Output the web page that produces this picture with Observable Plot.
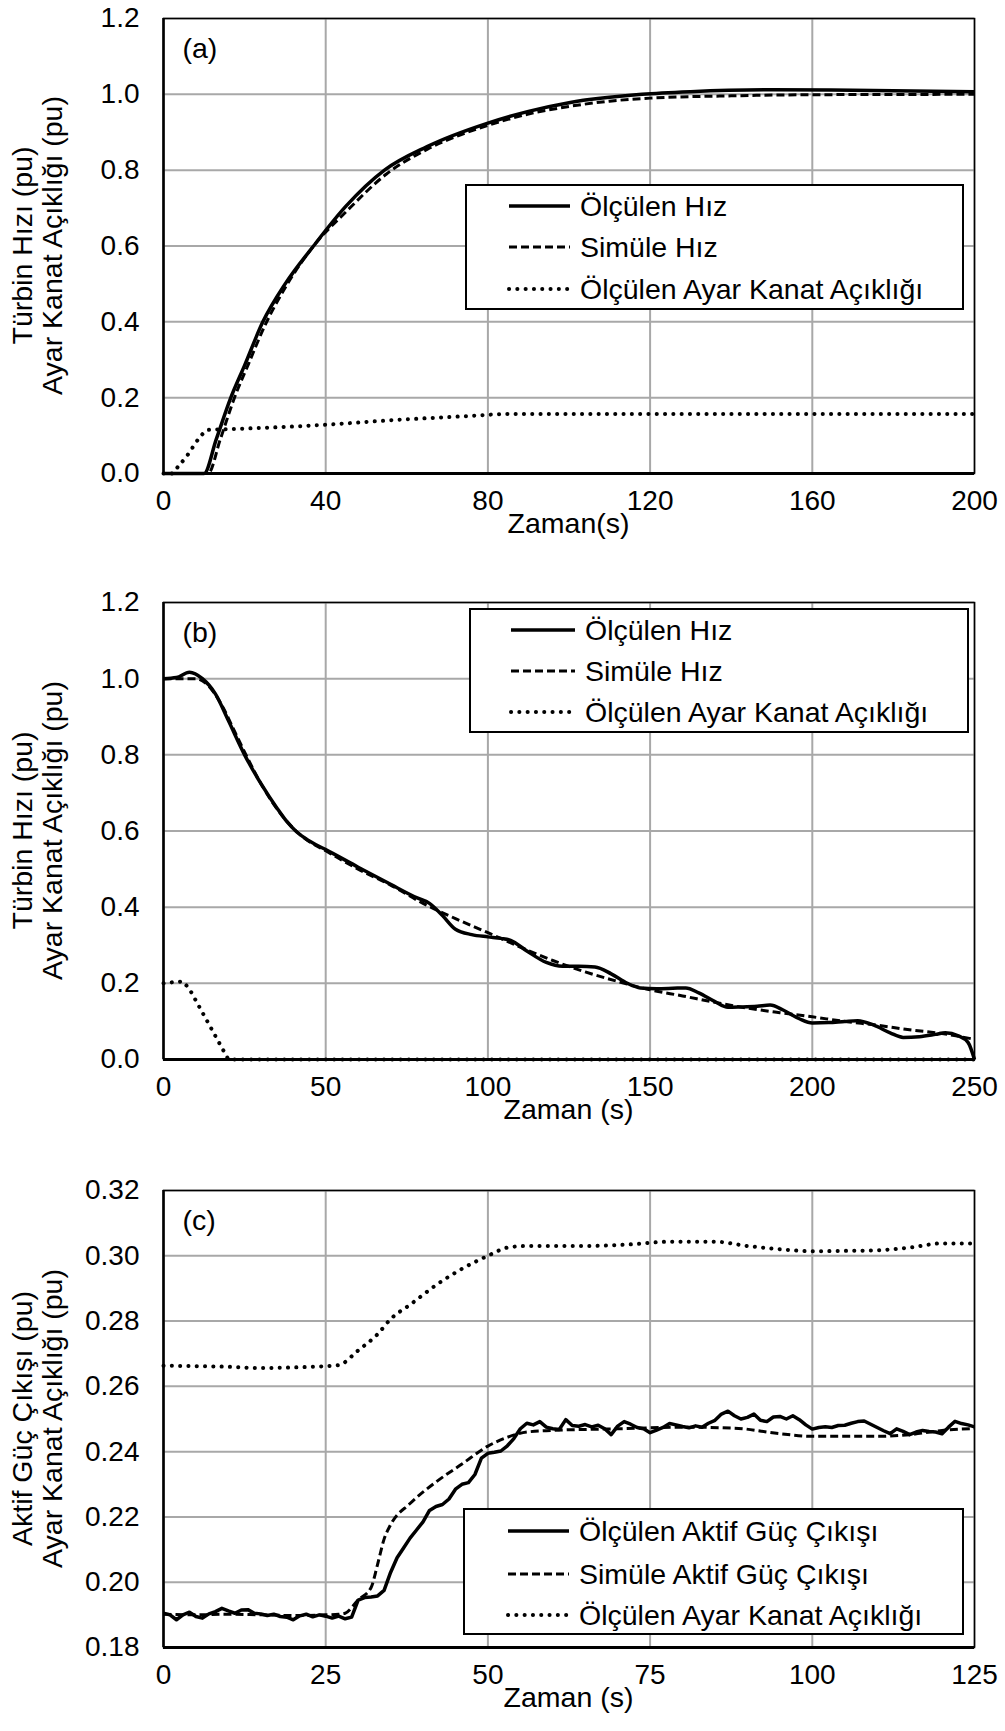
<!DOCTYPE html>
<html>
<head>
<meta charset="utf-8">
<script src="https://cdn.jsdelivr.net/npm/d3@7"></script>
<script src="https://cdn.jsdelivr.net/npm/@observablehq/plot@0.6"></script>
<style>
  html, body { margin: 0; padding: 0; background: #fff; overflow: hidden; }
  #chart { width: 1005px; }
  #chart svg { display: block; }
</style>
</head>
<body>
<div id="chart"></div>
<script>
// ---------- Panel (a) data ----------
const aXTicks = [0, 40, 80, 120, 160, 200];
const aYTicks = [0, 0.2, 0.4, 0.6, 0.8, 1.0, 1.2];
const aMeasT = [0, 10, 13, 16.6, 20, 24.5, 30, 37, 45, 54.5, 65, 80, 90, 100, 118, 130, 150, 170, 200];
const aMeasV = [0, 0, 0.09, 0.2, 0.285, 0.4, 0.5, 0.6, 0.705, 0.8, 0.862, 0.924, 0.955, 0.978, 1.0, 1.007, 1.012, 1.011, 1.007];
const aSimT = [0, 11, 14, 17.5, 21, 25, 30, 37, 45, 55, 65, 80, 90, 100, 110, 120, 140, 160, 200];
const aSimV = [0, 0, 0.09, 0.2, 0.29, 0.39, 0.49, 0.6, 0.69, 0.79, 0.855, 0.918, 0.948, 0.968, 0.982, 0.99, 0.996, 0.999, 1.0];
const aGateT = [0, 2, 3.5, 6, 8.7, 11, 19, 39, 57, 76, 85, 200];
const aGateV = [0, 0, 0.017, 0.05, 0.092, 0.115, 0.118, 0.128, 0.141, 0.152, 0.157, 0.157];

// ---------- Panel (b) data ----------
const bXTicks = [0, 50, 100, 150, 200, 250];
const bYTicks = [0, 0.2, 0.4, 0.6, 0.8, 1.0, 1.2];
const bMeasT = [0, 4, 8, 12, 16, 20, 25, 30, 35, 38, 41, 44, 47, 50, 60, 70, 78, 82, 86, 90, 95, 100, 104, 107, 112, 118, 123, 128, 133, 138, 143, 147, 152, 157, 161, 165, 170, 174, 178, 183, 187, 191, 196, 200, 205, 210, 214, 219, 224, 228, 233, 238, 241, 245, 248, 250];
const bMeasV = [1.0, 1.003, 1.017, 1.0, 0.96, 0.89, 0.8, 0.725, 0.66, 0.625, 0.598, 0.579, 0.564, 0.551, 0.505, 0.46, 0.425, 0.41, 0.378, 0.342, 0.328, 0.322, 0.318, 0.313, 0.285, 0.255, 0.245, 0.245, 0.243, 0.225, 0.2, 0.188, 0.186, 0.187, 0.188, 0.175, 0.152, 0.137, 0.138, 0.14, 0.143, 0.13, 0.107, 0.096, 0.097, 0.1, 0.102, 0.09, 0.07, 0.058, 0.06, 0.066, 0.07, 0.062, 0.045, 0.0];
const bSimT = [0, 10, 14, 18, 22, 26, 30, 35, 40, 45, 50, 60, 70, 80, 90, 100, 110, 120, 130, 140, 150, 160, 170, 180, 190, 200, 210, 220, 230, 240, 250];
const bSimV = [1.0, 1.0, 0.98, 0.93, 0.86, 0.79, 0.725, 0.658, 0.607, 0.572, 0.548, 0.5, 0.458, 0.41, 0.37, 0.333, 0.295, 0.26, 0.23, 0.205, 0.183, 0.167, 0.15, 0.135, 0.123, 0.112, 0.1, 0.09, 0.078, 0.068, 0.053];
const bGateT = [0, 3, 6, 8, 20, 250];
const bGateV = [0.2, 0.203, 0.205, 0.185, 0.0, 0.0];

// ---------- Panel (c) data ----------
const cXTicks = [0, 25, 50, 75, 100, 125];
const cYTicks = [0.18, 0.20, 0.22, 0.24, 0.26, 0.28, 0.30, 0.32];
const cMeasT = [0,1,2,3,4,5,6,7,8,9,10,11,12,13,14,15,16,17,18,19,20,21,22,23,24,25,26,27,28,29,30,31,32,33,34,35,36,37,38,39,40,41,42,43,44,45,46,47,48,49,50,51,52,53,54,55,56,57,58,59,60,61,62,63,64,65,66,67,68,69,70,71,72,73,74,75,76,77,78,79,80,81,82,83,84,85,86,87,88,89,90,91,92,93,94,95,96,97,98,99,100,101,102,103,104,105,106,107,108,109,110,111,112,113,114,115,116,117,118,119,120,121,122,123,124,125];
const cMeasV = [0.1905,0.1900,0.1885,0.1900,0.1908,0.1895,0.1890,0.1903,0.1910,0.1920,0.1912,0.1905,0.1915,0.1916,0.1905,0.1903,0.1898,0.1902,0.1895,0.1893,0.1885,0.1897,0.1902,0.1894,0.1900,0.1896,0.1890,0.1896,0.1888,0.1893,
  0.1945,0.1953,0.1955,0.1958,0.1975,0.2030,0.2075,0.2105,0.2135,0.2160,0.2185,0.2220,0.2232,0.2238,0.2255,0.2285,0.2300,0.2305,0.2330,0.2380,
  0.2395,0.2398,0.2402,0.2418,0.2440,0.2470,0.2487,0.2482,0.2492,0.2475,0.2470,0.2468,0.2498,0.2480,0.2478,0.2483,0.2476,0.2481,0.2470,0.2452,
  0.2478,0.2492,0.2484,0.2474,0.2470,0.2458,0.2466,0.2474,0.2486,0.2482,0.2477,0.2473,0.2479,0.2475,0.2487,0.2496,0.2515,0.2524,0.2510,0.2500,
  0.2505,0.2515,0.2496,0.2492,0.2506,0.2508,0.2500,0.2510,0.2498,0.2482,0.2469,0.2474,0.2476,0.2474,0.2480,0.2481,0.2487,0.2492,0.2494,0.2484,
  0.2474,0.2464,0.2455,0.2470,0.2462,0.2452,0.2460,0.2465,0.2462,0.2460,0.2455,0.2475,0.2493,0.2486,0.2482,0.2476];
const cSimT = [0, 5, 10, 15, 20, 25, 27, 28, 30, 32, 33, 34, 35, 38, 42, 46, 50, 53, 56, 60, 70, 80, 88, 95, 100, 110, 115, 120, 125];
const cSimV = [0.1902, 0.1900, 0.1902, 0.1900, 0.1898, 0.1900, 0.1902, 0.1905, 0.1946, 0.1984, 0.2055, 0.2132, 0.2176, 0.2241, 0.2307, 0.2362, 0.2417, 0.2444, 0.2460, 0.2465, 0.2470, 0.2475, 0.2472, 0.2455, 0.2447, 0.2447, 0.2452, 0.2465, 0.2471];
const cGateT = [0, 5, 10, 15, 20, 25, 27, 30, 33, 35, 38, 42, 46, 50, 53, 56, 65, 72, 78, 85, 90, 95, 100, 105, 110, 115, 120, 125];
const cGateV = [0.2663, 0.2662, 0.2660, 0.2656, 0.2658, 0.2662, 0.2665, 0.2710, 0.2760, 0.2806, 0.2850, 0.2910, 0.2960, 0.3000, 0.3025, 0.3030, 0.3030, 0.3035, 0.3043, 0.3043, 0.3030, 0.3020, 0.3014, 0.3015, 0.3017, 0.3025, 0.3038, 0.3038];

// ---------- Text ----------
const speedLabels = ["Ölçülen Hız", "Simüle Hız", "Ölçülen Ayar Kanat Açıklığı"];
const powerLabels = ["Ölçülen Aktif Güç Çıkışı", "Simüle Aktif Güç Çıkışı", "Ölçülen Ayar Kanat Açıklığı"];

const FONT = "'Liberation Sans', Arial, Helvetica, sans-serif";
const FS_TICK = 28;
const FS_TITLE = 28.5;
const FS_LEG = 28.5;
const STYLES = [
  {stroke: "black", strokeWidth: 3.5, strokeDasharray: null, strokeLinecap: "butt"},
  {stroke: "black", strokeWidth: 3, strokeDasharray: "8,4", strokeLinecap: "butt"},
  {stroke: "black", strokeWidth: 4, strokeDasharray: "0.1,8.2", strokeLinecap: "round"}
];

const zip = (ts, vs) => ts.map((t, i) => ({t, v: vs[i]}));

function panel(cfg) {
  const series = cfg.series.map(([ts, vs]) => zip(ts, vs));
  const marks = [
    Plot.ruleX(cfg.xTicks, {stroke: "#a8a8a8", strokeWidth: 2}),
    Plot.ruleY(cfg.yTicks, {stroke: "#a8a8a8", strokeWidth: 2}),
    ...series.map((d, i) => Plot.line(d, {
      x: "t", y: "v",
      stroke: STYLES[i].stroke, strokeWidth: STYLES[i].strokeWidth,
      strokeDasharray: STYLES[i].strokeDasharray, strokeLinecap: STYLES[i].strokeLinecap,
      curve: cfg.curves[i]
    })),
    Plot.frame({stroke: "black", strokeWidth: 1.5}),
    Plot.ruleY([cfg.yDomain[0]], {stroke: "black", strokeWidth: 3}),
    Plot.ruleX([cfg.xDomain[0]], {stroke: "black", strokeWidth: 2.5}),
    Plot.text([cfg.tag], {frameAnchor: "top-left", textAnchor: "start", lineAnchor: "middle", dx: 19, dy: 30, fontSize: FS_TITLE, fill: "black"})
  ];
  const svg = Plot.plot({
    width: 1005,
    height: cfg.height,
    marginLeft: 163, marginRight: 31, marginTop: 18, marginBottom: cfg.height - 18 - cfg.plotH,
    style: {fontFamily: FONT, fontSize: FS_TICK + "px", color: "black", background: "white"},
    x: {domain: cfg.xDomain, ticks: cfg.xTicks, tickSize: 0, tickPadding: 17, label: null, tickFormat: d3.format("d")},
    y: {domain: cfg.yDomain, ticks: cfg.yTicks, tickSize: 0, tickPadding: 24, label: null, tickFormat: d3.format(cfg.yFmt)},
    marks
  });
  const s = d3.select(svg);
  const top = 18, bottom = 18 + cfg.plotH, left = 163, right = 1005 - 31;
  // x axis title
  s.append("text").attr("x", (left + right) / 2).attr("y", bottom + 50).attr("dy", "0.35em")
    .attr("text-anchor", "middle").attr("font-family", FONT).attr("font-size", FS_TITLE).attr("fill", "black")
    .text(cfg.xTitle);
  // y axis titles (two lines)
  const cy = (top + bottom) / 2;
  cfg.yTitles.forEach((txt, i) => {
    const x = i === 0 ? 22 : 52;
    s.append("text").attr("transform", `translate(${x},${cy}) rotate(-90)`).attr("dy", "0.35em")
      .attr("text-anchor", "middle").attr("font-family", FONT).attr("font-size", FS_TITLE).attr("fill", "black")
      .text(txt);
  });
  // legend
  const L = cfg.legend;
  const g = s.append("g").attr("text-anchor", "start");
  g.append("rect").attr("x", L.x).attr("y", L.y).attr("width", L.w).attr("height", L.h)
    .attr("fill", "white").attr("stroke", "black").attr("stroke-width", 2);
  cfg.labels.forEach((lab, i) => {
    const y = L.rows[i];
    const st = STYLES[i];
    g.append("line").attr("x1", L.s0).attr("x2", L.s1).attr("y1", y).attr("y2", y)
      .attr("stroke", st.stroke).attr("stroke-width", st.strokeWidth)
      .attr("stroke-dasharray", st.strokeDasharray).attr("stroke-linecap", st.strokeLinecap);
    g.append("text").attr("x", L.tx).attr("y", y).attr("dy", "0.35em").attr("text-anchor", "start")
      .attr("font-family", FONT).attr("font-size", FS_LEG).attr("fill", "black").text(lab);
  });
  return svg;
}

const chart = document.getElementById("chart");
chart.appendChild(panel({
  height: 584, plotH: 455, xDomain: [0, 200], yDomain: [0, 1.2], xTicks: aXTicks, yTicks: aYTicks, yFmt: ".1f",
  series: [[aMeasT, aMeasV], [aSimT, aSimV], [aGateT, aGateV]], curves: ["monotone-x", "monotone-x", "monotone-x"],
  tag: "(a)", xTitle: "Zaman(s)", yTitles: ["Türbin Hızı (pu)", "Ayar Kanat Açıklığı (pu)"],
  labels: speedLabels,
  legend: {x: 466, y: 185, w: 497, h: 124, rows: [206, 247, 289], s0: 509, s1: 570, tx: 580}
}));
chart.appendChild(panel({
  height: 588, plotH: 457, xDomain: [0, 250], yDomain: [0, 1.2], xTicks: bXTicks, yTicks: bYTicks, yFmt: ".1f",
  series: [[bMeasT, bMeasV], [bSimT, bSimV], [bGateT, bGateV]], curves: ["monotone-x", "monotone-x", "linear"],
  tag: "(b)", xTitle: "Zaman (s)", yTitles: ["Türbin Hızı (pu)", "Ayar Kanat Açıklığı (pu)"],
  labels: speedLabels,
  legend: {x: 470, y: 25, w: 498, h: 123, rows: [46, 87, 128], s0: 511, s1: 575, tx: 585}
}));
chart.appendChild(panel({
  height: 559, plotH: 457, xDomain: [0, 125], yDomain: [0.18, 0.32], xTicks: cXTicks, yTicks: cYTicks, yFmt: ".2f",
  series: [[cMeasT, cMeasV], [cSimT, cSimV], [cGateT, cGateV]], curves: ["linear", "monotone-x", "monotone-x"],
  tag: "(c)", xTitle: "Zaman (s)", yTitles: ["Aktif Güç Çıkışı (pu)", "Ayar Kanat Açıklığı (pu)"],
  labels: powerLabels,
  legend: {x: 464, y: 337, w: 499, h: 125, rows: [359, 402, 443], s0: 508, s1: 569, tx: 579}
}));
</script>
</body>
</html>
